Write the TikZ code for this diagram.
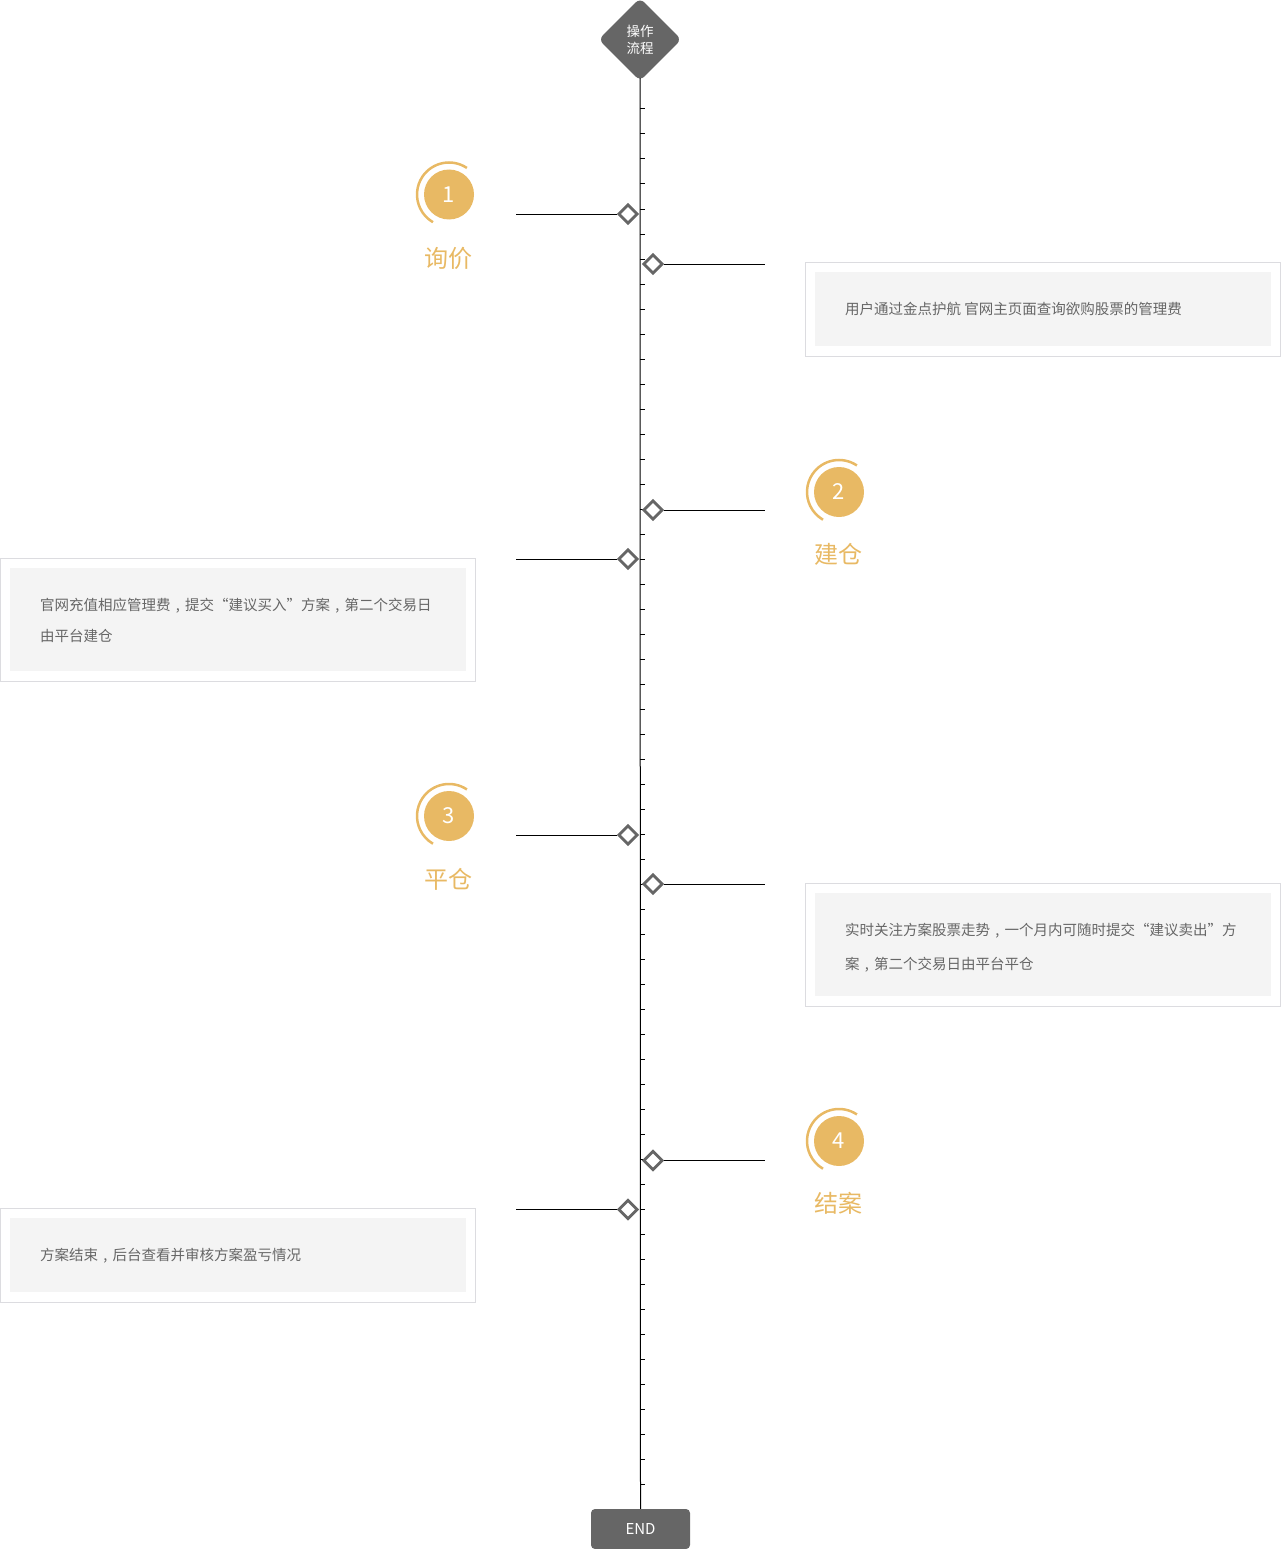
\documentclass[tikz,border=0pt]{standalone}
\usepackage{fontspec}
\setmainfont{Noto Sans CJK SC}
\usetikzlibrary{shapes.geometric}
\definecolor{gold}{HTML}{E8B964}
\definecolor{mark}{HTML}{666666}
\definecolor{edge}{HTML}{DCDCE0}
\definecolor{panel}{HTML}{F4F4F4}
\newcommand{\cma}{\makebox[1em]{,}}

\begin{document}
\begin{tikzpicture}[x=1pt, y=-1pt,
  knot/.style={diamond, draw=mark, line width=2.8pt, fill=white, minimum size=19.5pt, inner sep=0pt},
  badge/.style={circle, fill=gold, text=white, minimum size=50pt, inner sep=0pt, font=\fontsize{22}{22}\selectfont},
  ring/.style={gold, line width=2.5pt},
  title/.style={text=gold, font=\fontsize{24}{24}\selectfont},
  lead/.style={line width=1pt},
  note/.style={anchor=west, text=mark, inner sep=0pt, font=\fontsize{14.5}{14.5}\selectfont}]

\useasboundingbox (0,0) rectangle (1281,1549);

\node[diamond, fill=mark, rounded corners=6pt, minimum size=83pt, inner sep=0pt, text=white, align=center, font=\fontsize{13.5}{17}\selectfont] (start) at (640,39.5) {操作\\流程};
\node[rectangle, fill=mark, rounded corners=4pt, minimum width=99pt, minimum height=40pt, text=white, font=\fontsize{15}{15}\selectfont] (end) at (640.5,1529) {END};

\draw[lead] ([yshift=3pt]start.south) -- (end.north);
\foreach \y in {109,134,...,1484} \draw[lead] (640,\y) -- (645,\y);

% -------- Step 1 -----------
\node[badge] (b1) at (449,194.5) {1};
\draw[ring] ([shift={(56:32pt)}]b1.center) arc[start angle=56, end angle=240, radius=32pt];
\node[title] (t1) at (448,258) {询价};
\node[knot] (k1l) at (628,214) {};
\node[knot] (k1r) at (653,264) {};
\coordinate (e1l) at (516,214);
\coordinate (e1r) at (765,264);
\draw[lead] (e1l) -- (k1l);
\draw[lead] (k1r) -- (e1r);

\draw[edge, line width=1pt] (805.5,262.5) rectangle (1280,356);
\fill[panel] (815,272) rectangle (1271,346);
\node[note] (n1) at (845,309) {用户通过金点护航 官网主页面查询欲购股票的管理费};

% -------- Step 2 -----------
\node[badge] (b2) at (839,492) {2};
\draw[ring] ([shift={(56:32pt)}]b2.center) arc[start angle=56, end angle=240, radius=32pt];
\node[title] (t2) at (838,554) {建仓};
\node[knot] (k2r) at (653,510) {};
\node[knot] (k2l) at (628,559) {};
\coordinate (e2r) at (765,510);
\coordinate (e2l) at (516,559);
\draw[lead] (k2r) -- (e2r);
\draw[lead] (e2l) -- (k2l);

\draw[edge, line width=1pt] (0.5,558.5) rectangle (475,681);
\fill[panel] (10,568) rectangle (466,671);
\node[note] (n2a) at (40,605.5) {官网充值相应管理费\cma 提交“建议买入”方案\cma 第二个交易日};
\node[note] (n2b) at (40,635.5) {由平台建仓};

% -------- Step 3 -----------
\node[badge] (b3) at (449,816) {3};
\draw[ring] ([shift={(56:32pt)}]b3.center) arc[start angle=56, end angle=240, radius=32pt];
\node[title] (t3) at (448,879) {平仓};
\node[knot] (k3l) at (628,835) {};
\node[knot] (k3r) at (653,884) {};
\coordinate (e3l) at (516,835);
\coordinate (e3r) at (765,884);
\draw[lead] (e3l) -- (k3l);
\draw[lead] (k3r) -- (e3r);

\draw[edge, line width=1pt] (805.5,883.5) rectangle (1280,1006);
\fill[panel] (815,893) rectangle (1271,996);
\node[note] (n3a) at (845,930.5) {实时关注方案股票走势\cma 一个月内可随时提交“建议卖出”方};
\node[note] (n3b) at (845,964.5) {案\cma 第二个交易日由平台平仓};

% -------- Step 4 -----------
\node[badge] (b4) at (839,1141) {4};
\draw[ring] ([shift={(56:32pt)}]b4.center) arc[start angle=56, end angle=240, radius=32pt];
\node[title] (t4) at (838,1203) {结案};
\node[knot] (k4r) at (653,1160.5) {};
\node[knot] (k4l) at (628,1209.5) {};
\coordinate (e4r) at (765,1160.5);
\coordinate (e4l) at (516,1209.5);
\draw[lead] (k4r) -- (e4r);
\draw[lead] (e4l) -- (k4l);

\draw[edge, line width=1pt] (0.5,1208.5) rectangle (475,1302);
\fill[panel] (10,1218) rectangle (466,1292);
\node[note] (n4) at (40,1255.5) {方案结束\cma 后台查看并审核方案盈亏情况};
\end{tikzpicture}
\end{document}
